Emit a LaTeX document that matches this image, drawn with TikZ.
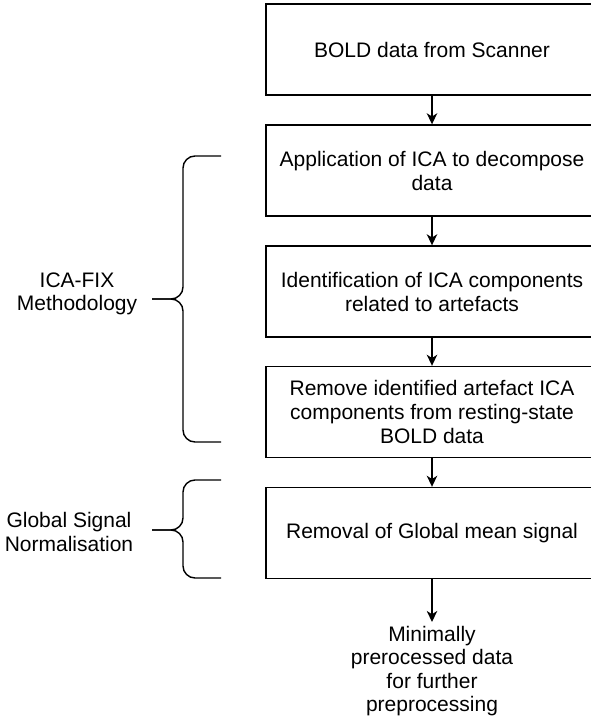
\documentclass[tikz,border=0pt]{standalone}
\usepackage{fontspec}
\setmainfont{Liberation Sans}
\usetikzlibrary{arrows.meta}
\begin{document}
\begin{tikzpicture}[x=0.5pt,y=-0.5pt,
  every node/.style={font=\fontsize{10.5pt}{12pt}\selectfont},
  stepbox/.style={draw=black,line width=0.7pt,minimum width=166pt,minimum height=45.5pt,inner sep=0pt,align=center},
  flow/.style={draw=black,line width=0.7pt,-{Stealth[length=5.5pt,width=5.2pt,inset=1.6pt]}},
  brace/.style={draw=black,line width=0.7pt,rounded corners=6pt},
  lbl/.style={align=center,inner sep=0pt,font=\fontsize{10.5pt}{11.6pt}\selectfont}]
\useasboundingbox (0,0) rectangle (590,722);
\node[stepbox] (b1) at (432,49.5) {BOLD data from Scanner};
\node[stepbox] (b2) at (432,170.5) {Application of ICA to decompose\\data};
\node[stepbox] (b3) at (432,291.5) {Identification of ICA components\\related to artefacts};
\node[stepbox] (b4) at (432,412) {Remove identified artefact ICA\\components from resting-state\\BOLD data};
\node[stepbox] (b5) at (432,533) {Removal of Global mean signal};
\node[lbl,anchor=north,inner ysep=2pt] (fin) at (432,622) {Minimally\\prerocessed data\\for further\\preprocessing};
\draw[flow] (b1) -- (b2);
\draw[flow] (b2) -- (b3);
\draw[flow] (b3) -- (b4);
\draw[flow] (b4) -- (b5);
\draw[flow] (b5) -- (fin);
% braces
\coordinate (t1) at (152,299);
\coordinate (t2) at (152,530);
\draw[brace] (221,156) -- (183,156) -- (183,299) -- (t1);
\draw[brace] (t1) -- (183,299) -- (183,442) -- (221,442);
\draw[brace] (221,480) -- (183,480) -- (183,530) -- (t2);
\draw[brace] (t2) -- (183,530) -- (183,578) -- (221,578);
\node[lbl] (l1) at (77,294) {ICA-FIX\\Methodology};
\node[lbl] (l2) at (69,532) {Global Signal\\Normalisation};
\end{tikzpicture}
\end{document}
